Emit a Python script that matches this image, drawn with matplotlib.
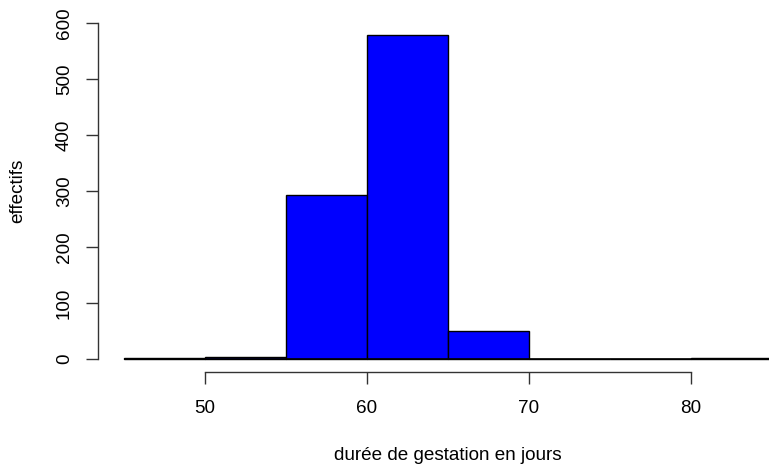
import matplotlib
matplotlib.use("Agg")
import matplotlib.pyplot as plt
import numpy as np

plt.rcParams['font.family'] = ['Liberation Sans', 'DejaVu Sans']

# Histogram of gestation durations (days), 5-day bins
bin_edges = [45, 50, 55, 60, 65, 70, 75, 80, 85]
counts = [1, 4, 293, 578, 50, 0, 0, 1]
x_ticks = [50, 60, 70, 80]
y_ticks = [0, 100, 200, 300, 400, 500, 600]
x_label = "durée de gestation en jours"
y_label = "effectifs"

W, H = 769, 465
fig = plt.figure(figsize=(W / 100, H / 100), dpi=100)

# plot region in pixels (R-style 4% padding around the data range)
xl, xr = 98, 798
yt, yb = 9.6, 372.4
ax = fig.add_axes([xl / W, (H - yb) / H, (xr - xl) / W, (yb - yt) / H])
ax.set_xlim(43.4, 86.6)
ax.set_ylim(-24, 624)

lefts = np.array(bin_edges[:-1])
widths = np.diff(bin_edges)
ax.bar(lefts, counts, width=widths, align='edge', color='#0000FF',
       edgecolor='black', linewidth=1.0, zorder=2)
# zero-height bins still show their outline along the baseline
ax.hlines(0, bin_edges[0], bin_edges[-1], color='black', linewidth=1.2, zorder=3)

for side in ['top', 'right']:
    ax.spines[side].set_visible(False)
ax.spines['left'].set_bounds(y_ticks[0], y_ticks[-1])
ax.spines['bottom'].set_bounds(x_ticks[0], x_ticks[-1])
for side in ['left', 'bottom']:
    ax.spines[side].set_color('#333333')
    ax.spines[side].set_linewidth(1.0)

fs = 13.6
ax.set_xticks(x_ticks)
ax.set_yticks(y_ticks)
ax.set_yticklabels([str(v) for v in y_ticks], rotation=90, va='center')
ax.tick_params(axis='both', direction='out', length=8.6, width=1.0,
               color='#333333', labelsize=fs, labelcolor='black')
ax.tick_params(axis='x', pad=11)
ax.tick_params(axis='y', pad=9.5)

fig.text(((xl + xr) / 2) / W, 1 - 455 / H, x_label, ha='center', va='center',
         fontsize=fs)
fig.text(18 / W, 1 - ((yt + yb) / 2) / H, y_label, ha='center', va='center',
         fontsize=fs, rotation=90)

fig.savefig("out.png", dpi=100)
